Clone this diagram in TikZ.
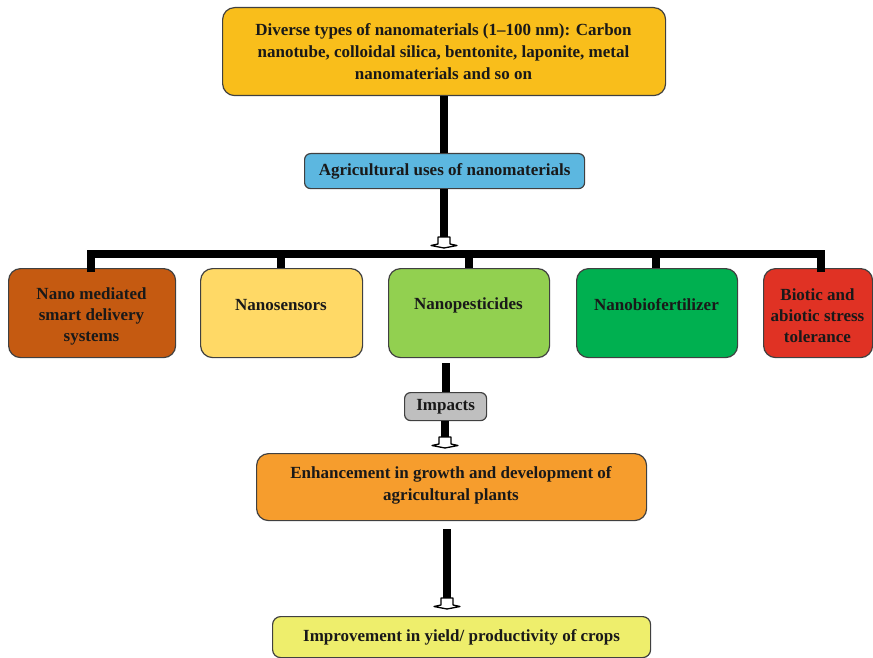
\documentclass[tikz,border=0pt]{standalone}
\usepackage{fontspec}
\setmainfont{Liberation Serif}
\begin{document}
\begin{tikzpicture}[x=1pt,y=-1pt,
  box/.style={draw=black!75, line width=1.2pt, rounded corners=12pt, inner sep=0pt,
    font=\bfseries\fontsize{17}{21.5}\selectfont, text=black!90, align=center, anchor=north west},
  label/.style={font=\bfseries\fontsize{17}{21}\selectfont, align=center, text=black!90},
  flow/.style={line width=8pt, black},
  hhead/.pic={\filldraw[fill=white, draw=black, line width=1.3pt, line join=round]
     (-6,-11) -- (6,-11) -- (6,-4) -- (13,-2.5) -- (0,0) -- (-13,-2.5) -- (-6,-4) -- cycle;}
]
\useasboundingbox (0,0) rectangle (873,658);

% main chain
\node[box, fill={rgb,255:red,249;green,190;blue,27}, minimum width=443pt, minimum height=88pt]
  (top) at (222,7) {};
\node[label, font=\bfseries\fontsize{17}{22}\selectfont] at (443.5,52)
  {Diverse types of nanomaterials (1--100 nm): Carbon\\nanotube, colloidal silica, bentonite, laponite, metal\\nanomaterials and so on};

\node[box, rounded corners=6pt, fill={rgb,255:red,92;green,183;blue,224}, minimum width=280pt, minimum height=35pt]
  (uses) at (304,153) {Agricultural uses of nanomaterials};

% application boxes
\node[box, fill={rgb,255:red,197;green,90;blue,17}, minimum width=167pt, minimum height=89pt] (b1) at (8,268) {};
\node[label] at (91.5,316) {Nano mediated\\smart delivery\\systems};
\node[box, fill={rgb,255:red,255;green,217;blue,102}, minimum width=162pt, minimum height=89pt] (b2) at (200,268) {};
\node[label] at (281,305) {Nanosensors};
\node[box, fill={rgb,255:red,146;green,208;blue,80}, minimum width=161pt, minimum height=89pt] (b3) at (388,268) {};
\node[label] at (468.5,305) {Nanopesticides};
\node[box, fill={rgb,255:red,0;green,176;blue,80}, minimum width=161pt, minimum height=89pt] (b4) at (576,268) {};
\node[label] at (656.5,305) {Nanobiofertilizer};
\node[box, fill={rgb,255:red,224;green,50;blue,36}, minimum width=109pt, minimum height=89pt] (b5) at (763,268) {};
\node[label] at (817.5,316) {Biotic and\\abiotic stress\\tolerance};

\node[box, rounded corners=6pt, fill={rgb,255:red,191;green,191;blue,191}, minimum width=82pt, minimum height=28pt]
  (imp) at (404,392) {Impacts};

\node[box, fill={rgb,255:red,246;green,157;blue,45}, minimum width=390pt, minimum height=67pt] (enh) at (256,453) {};
\node[label, font=\bfseries\fontsize{17}{22}\selectfont] at (451,485)
  {Enhancement in growth and development of\\agricultural plants};

\node[box, rounded corners=8pt, fill={rgb,255:red,238;green,238;blue,108}, minimum width=378pt, minimum height=41pt]
  (yield) at (272,616) {Improvement in yield/ productivity of crops};

% connectors
\coordinate (h1) at (444,248);
\coordinate (bary) at (0,254);
\coordinate (h2) at (445,448);
\coordinate (h3) at (447,609);

\draw[flow] (top.south -| 444,0) -- (uses.north -| 444,0);
\draw[flow] (uses.south -| 444,0) -- ([yshift=10pt]h1);
\draw[flow, line cap=rect] (b1.north -| 91,0) -- (bary -| 91,0) -- (bary -| 821,0) -- (b5.north -| 821,0);
\draw[flow] (bary -| 281,0) -- (b2.north -| 281,0);
\draw[flow] (bary -| 469,0) -- (b3.north -| 469,0);
\draw[flow] (bary -| 656,0) -- (b4.north -| 656,0);
\draw[flow] ([yshift=-5pt]b3.south -| 446,0) -- (imp.north -| 446,0);
\draw[flow] (imp.south -| 445,0) -- ([yshift=10pt]h2);
\draw[flow] ([yshift=-8pt]enh.south -| 447,0) -- ([yshift=10pt]h3);

\pic at (h1) {hhead};
\pic at (h2) {hhead};
\pic at (h3) {hhead};
\end{tikzpicture}
\end{document}
